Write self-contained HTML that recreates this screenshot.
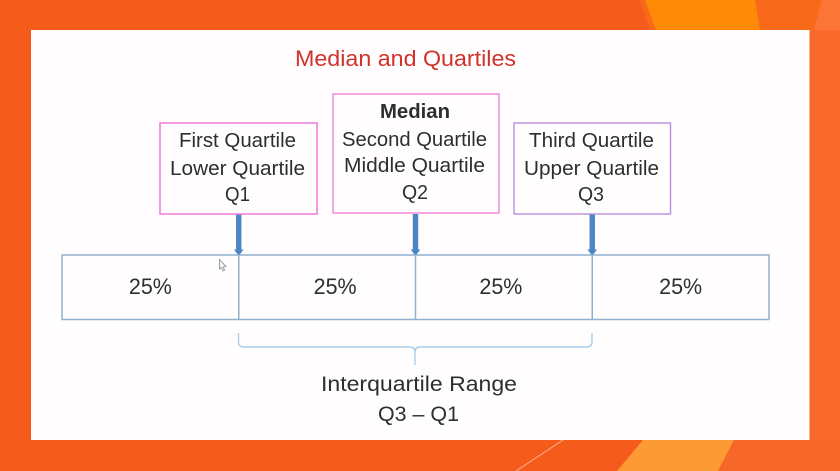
<!DOCTYPE html>
<html lang="en">
<head>
<meta charset="utf-8">
<title>Median and Quartiles</title>
<style>
html,body{margin:0;padding:0;background:#f55c1c;}
svg{display:block;}
text{font-family:"Liberation Sans",sans-serif;fill:#2e2e2e;filter:blur(0.25px);}
.l{font-size:20px;}
</style>
</head>
<body>
<svg id="diagram" width="840" height="471" viewBox="0 0 840 471" xmlns="http://www.w3.org/2000/svg">
  <g>
    <rect width="840" height="471" fill="#f55c1c"/>
    <polygon points="640,0 840,0 840,30 650,30" fill="#f86a1a"/>
    <polygon points="645,0 755,0 760,30 656,30" fill="#fe8a08"/>
    <polygon points="822,0 840,0 840,30 814,30" fill="#fb7636"/>
    <rect x="809" y="30" width="31" height="441" fill="#f8692b"/>
    <polygon points="617,471 643,440 734,440 718,471" fill="#fd9a33"/>
    <polygon points="718,471 734,440 840,440 840,471" fill="#f7672a"/>
    <line x1="563" y1="440" x2="516" y2="471" stroke="#f8b596" stroke-width="1"/>
  </g>
  <rect x="31" y="30" width="778.5" height="410" fill="#fffdfe"/>
  <text x="295" y="66" font-size="22.5" textLength="221" lengthAdjust="spacingAndGlyphs" style="fill:#cf3329">Median and Quartiles</text>

  <g id="arrows"></g>

  <g>
    <rect x="160" y="123" width="157" height="91" fill="#fffdfe" stroke="#ee82dc" stroke-width="1.6"/>
    <text class="l" x="179" y="147" textLength="117" lengthAdjust="spacingAndGlyphs">First Quartile</text>
    <text class="l" x="170" y="175" textLength="135" lengthAdjust="spacingAndGlyphs">Lower Quartile</text>
    <text class="l" x="225" y="201" textLength="25" lengthAdjust="spacingAndGlyphs">Q1</text>
  </g>
  <g>
    <rect x="333" y="94" width="166" height="119" fill="#fffdfe" stroke="#ee82dc" stroke-width="1.4"/>
    <text class="l" x="380" y="118" font-weight="700" textLength="70" lengthAdjust="spacingAndGlyphs">Median</text>
    <text class="l" x="342" y="146" textLength="145" lengthAdjust="spacingAndGlyphs">Second Quartile</text>
    <text class="l" x="344" y="172" textLength="141" lengthAdjust="spacingAndGlyphs">Middle Quartile</text>
    <text class="l" x="402" y="199" textLength="26" lengthAdjust="spacingAndGlyphs">Q2</text>
  </g>
  <g>
    <rect x="514" y="123" width="156.5" height="91" fill="#fffdfe" stroke="#b98fdc" stroke-width="1.4"/>
    <text class="l" x="529" y="147" textLength="125" lengthAdjust="spacingAndGlyphs">Third Quartile</text>
    <text class="l" x="524" y="175" textLength="135" lengthAdjust="spacingAndGlyphs">Upper Quartile</text>
    <text class="l" x="578" y="201" textLength="26" lengthAdjust="spacingAndGlyphs">Q3</text>
  </g>

  <g id="bar"></g>

  <path d="M238.5 333 V342 Q238.5 347 244 347 H410 Q415 347 415 352 V365 M415 352 Q415 347 420 347 H586 Q592 347 592 342 V333" fill="none" stroke="#a9cdea" stroke-width="1.4"/>
  <text x="321" y="391" font-size="21.5" textLength="196" lengthAdjust="spacingAndGlyphs">Interquartile Range</text>
  <text x="378" y="421" font-size="21.5" textLength="81" lengthAdjust="spacingAndGlyphs">Q3 – Q1</text>

  <path d="M219.5 259.5 V269 L221.5 267.5 L223 271 L224.6 270.2 L223.2 267 L226 266.6 Z" fill="#f6f6f6" stroke="#8a8a8a" stroke-width="0.8"/>
</svg>
<script>
var segmentLabels = ['25%', '25%', '25%', '25%'];
var segmentShares = [25, 25, 25, 25];

var NS = 'http://www.w3.org/2000/svg';
var barLeft = 62, barRight = 769, barTop = 255, barBottom = 319.5;
var labelNudge = [0, 8, -3, 0];
var total = segmentShares.reduce(function (a, b) { return a + b; }, 0);

function xScale(share) {
  return barLeft + (share / total) * (barRight - barLeft);
}
function make(tag, attrs) {
  var el = document.createElementNS(NS, tag);
  Object.keys(attrs).forEach(function (k) { el.setAttribute(k, attrs[k]); });
  return el;
}

var barGroup = document.getElementById('bar');
var arrowGroup = document.getElementById('arrows');

var frame = make('rect', { x: barLeft, y: barTop, width: barRight - barLeft, height: barBottom - barTop, fill: 'none', stroke: '#8fb0cf', 'stroke-width': 1.5 });


barGroup.appendChild(frame);

var running = 0;
segmentShares.forEach(function (share, i) {
  var x0 = xScale(running);
  var x1 = xScale(running + share);
  var label = make('text', { x: (x0 + x1) / 2 + labelNudge[i], y: 294, 'font-size': 22.5, 'text-anchor': 'middle', textLength: 43, lengthAdjust: 'spacingAndGlyphs' });
  label.textContent = segmentLabels[i];
  
  
  barGroup.appendChild(label);
  running += share;
  if (i < segmentShares.length - 1) {
    var divider = make('line', { x1: x1, x2: x1, y1: barTop, y2: barBottom, stroke: '#8fb0cf', 'stroke-width': 1.5 });
    
    
    barGroup.appendChild(divider);
    var arrow = make('path', { d: 'M' + (x1 - 2.7) + ' 214 H' + (x1 + 2.7) + ' V249.5 H' + (x1 + 4.8) + ' L' + x1 + ' 256 L' + (x1 - 4.8) + ' 249.5 H' + (x1 - 2.7) + ' Z', fill: '#4a86c5' });
    
    
    arrowGroup.appendChild(arrow);
  }
});
</script>
</body>
</html>
